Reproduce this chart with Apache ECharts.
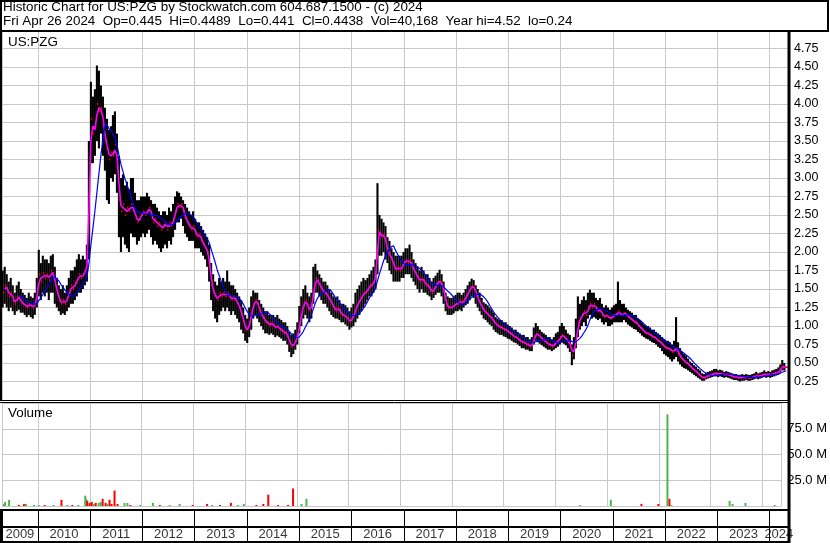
<!DOCTYPE html>
<html><head><meta charset="utf-8">
<script src="https://cdn.jsdelivr.net/npm/echarts@6/dist/echarts.min.js"></script>
<style>html,body{margin:0;padding:0;background:#fff}#c{width:830px;height:543px}</style>
</head><body><div id="c"></div>
<script>
// ---- data (biweekly bars, first bar 2009-05-01, last 2024-04-26) ----
const startDate = '2009-05-01';
const stepDays = 14;
const closes = [
1.45,1.55,1.50,1.40,1.45,1.35,1.30,1.40,1.38,1.32,
1.30,1.28,1.25,1.30,1.27,1.25,1.30,1.45,1.70,1.60,
1.72,1.65,1.70,1.62,1.75,1.70,1.55,1.45,1.35,1.30,
1.35,1.30,1.38,1.45,1.55,1.50,1.58,1.62,1.70,1.65,
1.70,1.75,1.85,3.20,3.80,3.60,3.70,4.00,3.90,3.95,
3.70,3.50,3.40,3.25,3.35,3.30,3.45,3.15,2.70,2.55,
2.65,2.50,2.60,2.55,2.65,2.55,2.50,2.40,2.45,2.50,
2.55,2.50,2.55,2.60,2.50,2.40,2.45,2.35,2.40,2.30,
2.35,2.40,2.30,2.40,2.35,2.45,2.55,2.65,2.60,2.65,
2.55,2.45,2.40,2.35,2.30,2.35,2.25,2.20,2.25,2.15,
2.10,2.05,2.00,1.80,1.55,1.45,1.40,1.35,1.45,1.40,
1.45,1.40,1.45,1.40,1.35,1.40,1.35,1.30,1.25,1.15,
1.05,0.95,0.95,1.05,1.20,1.30,1.35,1.30,1.20,1.15,
1.10,1.05,1.05,1.00,1.05,1.00,0.98,1.00,0.95,0.95,
0.90,0.92,0.85,0.78,0.72,0.75,0.80,0.90,1.05,1.20,
1.30,1.35,1.25,1.20,1.30,1.50,1.65,1.60,1.55,1.50,
1.45,1.45,1.40,1.35,1.30,1.25,1.20,1.25,1.20,1.15,
1.15,1.12,1.10,1.05,1.10,1.15,1.25,1.30,1.35,1.40,
1.45,1.45,1.50,1.55,1.55,1.60,1.70,2.30,2.25,2.20,
2.25,2.10,2.00,1.95,1.90,1.80,1.75,1.80,1.75,1.80,
1.85,1.90,1.85,1.90,1.80,1.75,1.70,1.65,1.60,1.65,
1.60,1.55,1.55,1.50,1.45,1.50,1.55,1.60,1.60,1.55,
1.45,1.30,1.25,1.25,1.25,1.28,1.30,1.30,1.35,1.30,
1.35,1.40,1.45,1.50,1.55,1.50,1.45,1.35,1.30,1.25,
1.20,1.18,1.15,1.12,1.10,1.05,1.02,1.00,0.98,0.98,
0.95,0.95,0.92,0.90,0.88,0.85,0.85,0.82,0.80,0.78,
0.78,0.75,0.75,0.72,0.75,0.85,0.90,0.88,0.85,0.82,
0.80,0.78,0.75,0.75,0.72,0.75,0.78,0.80,0.85,0.88,
0.85,0.82,0.78,0.75,0.60,0.70,0.85,1.05,1.10,1.15,
1.20,1.15,1.25,1.30,1.25,1.30,1.22,1.20,1.22,1.15,
1.12,1.15,1.12,1.10,1.12,1.15,1.15,1.20,1.15,1.15,
1.18,1.15,1.12,1.10,1.08,1.05,1.05,1.00,0.98,0.95,
0.92,0.90,0.90,0.88,0.85,0.85,0.82,0.80,0.78,0.75,
0.72,0.70,0.70,0.68,0.65,0.68,0.70,0.62,0.58,0.55,
0.52,0.50,0.48,0.45,0.42,0.40,0.38,0.35,0.32,0.30,
0.30,0.32,0.33,0.34,0.35,0.36,0.36,0.35,0.36,0.35,
0.34,0.35,0.34,0.33,0.32,0.31,0.31,0.30,0.30,0.31,
0.30,0.31,0.30,0.30,0.31,0.32,0.33,0.32,0.33,0.34,
0.35,0.34,0.35,0.34,0.35,0.36,0.37,0.38,0.42,0.46,
0.44,0.4438];
const highs = [
1.75,1.80,1.70,1.60,1.65,1.55,1.45,1.55,1.60,1.50,
1.45,1.42,1.38,1.45,1.40,1.38,1.45,1.65,2.03,1.85,
1.95,1.90,1.90,1.85,1.95,1.97,1.80,1.65,1.55,1.50,
1.55,1.45,1.55,1.65,1.75,1.75,1.80,1.90,1.97,1.90,
1.95,1.90,2.10,3.50,4.30,4.10,4.20,4.52,4.45,4.25,
4.10,3.95,3.80,3.65,3.70,3.85,3.90,3.60,3.30,3.00,
3.05,2.90,2.95,2.85,3.00,3.00,2.80,2.70,2.70,2.75,
2.75,2.75,2.80,2.75,2.70,2.65,2.65,2.60,2.55,2.50,
2.55,2.55,2.50,2.60,2.55,2.65,2.75,2.82,2.80,2.75,
2.70,2.65,2.60,2.55,2.50,2.55,2.45,2.40,2.40,2.35,
2.30,2.25,2.20,2.10,1.85,1.70,1.60,1.55,1.65,1.60,
1.65,1.60,1.75,1.60,1.55,1.55,1.50,1.45,1.40,1.35,
1.25,1.15,1.10,1.25,1.40,1.48,1.45,1.45,1.35,1.30,
1.25,1.20,1.20,1.15,1.15,1.15,1.12,1.15,1.10,1.08,
1.05,1.05,1.00,0.92,0.88,0.90,0.95,1.05,1.27,1.40,
1.50,1.55,1.45,1.40,1.45,1.80,1.84,1.75,1.70,1.65,
1.60,1.60,1.55,1.50,1.45,1.40,1.38,1.40,1.35,1.30,
1.30,1.28,1.25,1.20,1.25,1.30,1.45,1.50,1.55,1.60,
1.65,1.62,1.65,1.70,1.75,1.80,1.90,2.93,2.50,2.45,
2.40,2.35,2.20,2.15,2.05,2.00,1.95,1.95,1.95,1.95,
2.00,2.05,2.05,2.10,2.00,1.90,1.85,1.80,1.75,1.80,
1.75,1.70,1.70,1.65,1.60,1.65,1.68,1.72,1.76,1.70,
1.60,1.45,1.40,1.38,1.38,1.40,1.42,1.45,1.45,1.42,
1.45,1.50,1.55,1.60,1.64,1.62,1.55,1.50,1.45,1.38,
1.32,1.30,1.28,1.25,1.22,1.18,1.12,1.10,1.08,1.08,
1.05,1.05,1.02,1.00,0.98,0.95,0.95,0.92,0.90,0.88,
0.88,0.85,0.85,0.82,0.85,0.98,1.04,1.00,0.95,0.92,
0.90,0.88,0.85,0.85,0.82,0.85,0.90,0.92,1.00,1.04,
1.00,0.95,0.90,0.88,0.75,0.85,1.10,1.40,1.30,1.35,
1.40,1.35,1.45,1.49,1.45,1.45,1.38,1.35,1.38,1.30,
1.25,1.28,1.25,1.22,1.25,1.28,1.30,1.60,1.35,1.30,
1.30,1.25,1.22,1.20,1.18,1.15,1.15,1.10,1.08,1.05,
1.02,1.00,1.00,0.98,0.95,0.95,0.92,0.90,0.88,0.85,
0.82,0.80,0.80,0.78,0.75,0.80,1.12,0.78,0.70,0.65,
0.62,0.60,0.56,0.52,0.50,0.47,0.45,0.42,0.40,0.36,
0.35,0.37,0.38,0.39,0.40,0.42,0.42,0.40,0.41,0.40,
0.38,0.39,0.38,0.37,0.36,0.35,0.35,0.34,0.34,0.35,
0.34,0.35,0.34,0.34,0.35,0.36,0.38,0.36,0.37,0.38,
0.40,0.38,0.39,0.38,0.40,0.41,0.42,0.44,0.48,0.54,
0.50,0.4489];
const lows = [
1.25,1.30,1.25,1.20,1.25,1.20,1.15,1.20,1.22,1.18,
1.18,1.15,1.12,1.15,1.12,1.10,1.15,1.25,1.40,1.35,
1.45,1.40,1.45,1.35,1.45,1.45,1.30,1.25,1.20,1.15,
1.17,1.15,1.20,1.25,1.30,1.30,1.35,1.40,1.45,1.45,
1.50,1.55,1.60,1.90,3.20,3.20,3.30,3.50,3.40,3.60,
3.30,3.10,2.70,2.65,3.00,2.95,3.05,2.80,2.20,2.00,
2.20,2.10,2.05,2.00,2.25,2.20,2.20,2.10,2.15,2.20,
2.25,2.20,2.25,2.30,2.20,2.10,2.15,2.10,2.05,2.00,
2.05,2.10,2.05,2.15,2.10,2.20,2.30,2.40,2.40,2.45,
2.35,2.25,2.20,2.15,2.15,2.15,2.05,2.05,2.05,2.00,
1.95,1.90,1.80,1.60,1.35,1.20,1.10,1.05,1.15,1.20,
1.25,1.20,1.25,1.20,1.15,1.20,1.15,1.10,1.05,0.95,
0.90,0.80,0.77,0.85,0.95,1.10,1.15,1.10,1.05,1.00,
0.95,0.90,0.90,0.88,0.90,0.88,0.85,0.87,0.85,0.83,
0.80,0.80,0.75,0.65,0.58,0.62,0.68,0.75,0.90,1.00,
1.10,1.15,1.10,1.05,1.10,1.30,1.45,1.45,1.40,1.35,
1.30,1.30,1.25,1.20,1.15,1.12,1.10,1.10,1.08,1.05,
1.05,1.02,1.00,0.95,0.98,1.00,1.05,1.10,1.15,1.20,
1.25,1.30,1.35,1.40,1.40,1.45,1.50,1.70,1.95,1.95,
2.00,1.90,1.85,1.75,1.70,1.60,1.60,1.60,1.60,1.65,
1.65,1.70,1.70,1.70,1.65,1.60,1.55,1.50,1.45,1.50,
1.45,1.45,1.42,1.40,1.35,1.38,1.42,1.45,1.45,1.40,
1.30,1.20,1.15,1.15,1.15,1.17,1.20,1.20,1.22,1.20,
1.25,1.28,1.30,1.35,1.40,1.38,1.30,1.25,1.20,1.15,
1.10,1.08,1.05,1.02,1.00,0.95,0.92,0.90,0.88,0.88,
0.86,0.85,0.83,0.82,0.80,0.78,0.77,0.75,0.73,0.70,
0.70,0.68,0.68,0.66,0.66,0.75,0.80,0.78,0.76,0.74,
0.72,0.70,0.68,0.68,0.66,0.68,0.70,0.72,0.75,0.78,
0.76,0.74,0.70,0.65,0.47,0.55,0.70,0.85,0.95,1.00,
1.05,1.00,1.10,1.15,1.10,1.12,1.10,1.08,1.10,1.05,
1.02,1.05,1.00,1.00,1.02,1.05,1.05,1.05,1.05,1.05,
1.08,1.05,1.02,1.00,0.98,0.96,0.95,0.92,0.90,0.87,
0.85,0.83,0.82,0.80,0.78,0.77,0.75,0.72,0.70,0.66,
0.62,0.60,0.58,0.55,0.52,0.55,0.58,0.52,0.48,0.45,
0.43,0.42,0.40,0.38,0.36,0.34,0.32,0.30,0.28,0.26,
0.26,0.28,0.29,0.30,0.31,0.32,0.32,0.31,0.32,0.31,
0.30,0.31,0.30,0.29,0.28,0.27,0.27,0.26,0.25,0.26,
0.26,0.27,0.26,0.26,0.27,0.28,0.29,0.28,0.29,0.30,
0.31,0.30,0.31,0.30,0.31,0.32,0.33,0.34,0.37,0.40,
0.40,0.441];
// volume bars (millions), 1 = up (green), 0 = down (red)
const volDates = ['2009-05-04','2009-05-11','2009-06-08','2009-08-17','2009-09-21','2009-10-05','2009-12-01','2010-01-03','2010-02-14','2010-04-18','2010-06-13','2010-07-25','2010-08-29','2010-10-10','2010-11-28','2010-12-05','2010-12-12','2010-12-29','2011-01-13','2011-01-27','2011-02-10','2011-03-03','2011-03-17','2011-03-31','2011-04-21','2011-05-05','2011-05-19','2011-06-02','2011-06-23','2011-07-14','2011-09-01','2011-09-22','2011-10-13','2011-12-22','2012-03-20','2012-05-08','2012-07-17','2012-09-25','2012-12-26','2013-04-07','2013-05-12','2013-07-07','2013-09-22','2013-11-10','2013-12-22','2014-03-21','2014-05-09','2014-06-13','2014-08-22','2014-10-31','2014-12-05','2015-02-03','2015-03-10','2020-06-24','2021-01-27','2021-08-31','2021-12-29','2022-03-03','2022-03-17','2022-03-31','2023-05-16','2023-06-06','2023-09-05','2024-03-30'];
const volValues = [2,4,6,1,2,2,1,1,1,1,6,1,1,1,10,7,5,3,4,2,3,3,4,7,3,2,6,2,15,2,3,3,1,1,3,1,1,2,1,2,1,1,3,1,2,1,2,11,1,1,17,2,7,1,6,2,2,89,7,1,5,2,3,1];
const volUp = [1,1,1,0,0,1,1,1,0,1,0,1,0,1,1,1,0,0,0,1,0,1,1,0,0,1,0,0,0,0,1,1,0,1,1,0,1,1,0,0,1,0,0,1,1,0,0,0,0,0,0,1,1,1,1,0,0,1,0,1,1,1,1,1];
const yearLabels = ['2009','2010','2011','2012','2013','2014','2015','2016','2017','2018','2019','2020','2021','2022','2023','2024'];
const axisStart = '2009-04-26', axisEnd = '2024-05-08';
const maShort = 2, maLong = 9;
const priceTicks = {min: 0, max: 5, step: 0.25};
const volTicks = {min: 0, max: 100, step: 25};

// ---- build ----
const DAY = 86400000;
const t0 = Date.parse(startDate + 'T00:00:00Z');
const times = closes.map((_, i) => t0 + i * stepDays * DAY);
const ohlc = times.map((t, i) => [t, lows[i], highs[i], closes[i]]);
function sma(n) {
  const out = [];
  for (let i = n - 1; i < closes.length; i++) {
    let s = 0; for (let k = 0; k < n; k++) s += closes[i - k];
    out.push([times[i], s / n]);
  }
  return out;
}
const tMin = Date.parse(axisStart + 'T00:00:00Z'), tMax = Date.parse(axisEnd + 'T00:00:00Z');
const yearCenters = yearLabels.map(y => {
  const a = Math.max(Date.UTC(+y, 0, 1), tMin), b = Math.min(Date.UTC(+y + 1, 0, 1), tMax);
  return [(a + b) / 2, 0.25];
});
const FONT = '"Liberation Sans", Arial, sans-serif';
const GRID = '#c8c8c8';
const YEAR = 365 * DAY;
function xAx(idx, splitColor) {
  return {type: 'time', gridIndex: idx, min: tMin, max: tMax, minInterval: YEAR, maxInterval: 366 * DAY,
    axisLine: {show: false}, axisTick: {show: false}, axisLabel: {show: false},
    splitLine: {show: true, lineStyle: {color: splitColor, width: 1}}};
}
const chart = echarts.init(document.getElementById('c'), null, {renderer: 'canvas'});
const option = {
  animation: false,
  useUTC: true,
  backgroundColor: '#fff',
  grid: [
    {left: 2, top: 30, width: 786, height: 370},
    {left: 2, top: 403, width: 786, height: 103},
    {left: 2, top: 510, width: 786, height: 32}
  ],
  xAxis: [xAx(0, GRID), xAx(1, GRID), xAx(2, '#000')],
  yAxis: [
    {gridIndex: 0, position: 'right', min: priceTicks.min, max: priceTicks.max, interval: priceTicks.step,
      axisLine: {show: false}, axisTick: {show: false},
      axisLabel: {showMinLabel: false, showMaxLabel: false, margin: 6, color: '#000', fontSize: 12.5, fontFamily: FONT,
        formatter: v => v.toFixed(2)},
      splitLine: {lineStyle: {color: GRID, width: 1}}},
    {gridIndex: 1, position: 'right', min: volTicks.min, max: volTicks.max, interval: volTicks.step,
      axisLine: {show: false}, axisTick: {show: false},
      axisLabel: {showMinLabel: false, showMaxLabel: false, margin: 6, color: '#000', fontSize: 13, fontFamily: FONT,
        formatter: v => v.toFixed(1) + ' M'},
      splitLine: {lineStyle: {color: GRID, width: 1}}},
    {gridIndex: 2, min: 0, max: 1, show: false}
  ],
  series: [
    {type: 'custom', xAxisIndex: 0, yAxisIndex: 0, data: ohlc, clip: true, silent: true, z: 2,
      renderItem: function (params, api) {
        const t = api.value(0);
        const pL = api.coord([t, api.value(1)]);
        const pH = api.coord([t, api.value(2)]);
        const x = pL[0];
        return {type: 'rect', shape: {x: x - 1.05, y: pH[1], width: 2.1, height: Math.max(1, pL[1] - pH[1])}, style: {fill: '#000'}};
      }},
    {type: 'custom', xAxisIndex: 0, yAxisIndex: 0, data: ohlc, clip: true, silent: true, z: 3,
      renderItem: function (params, api) {
        const t = api.value(0);
        const pC = api.coord([t, api.value(3)]);
        return {type: 'rect', shape: {x: pC[0] + 0.2, y: pC[1] - 1, width: 1.2, height: 2}, style: {fill: '#ff0000'}};
      }},
    {type: 'line', xAxisIndex: 0, yAxisIndex: 0, data: sma(maShort), showSymbol: false, silent: true, z: 4,
      lineStyle: {color: '#ff00ff', width: 1.6}},
    {type: 'line', xAxisIndex: 0, yAxisIndex: 0, data: sma(maLong), showSymbol: false, silent: true, z: 5,
      lineStyle: {color: '#0000ff', width: 1.2}},
    {type: 'bar', xAxisIndex: 1, yAxisIndex: 1, barWidth: 2, silent: true,
      data: volDates.map((d, i) => ({value: [Date.parse(d + 'T00:00:00Z'), volValues[i]],
        itemStyle: {color: volUp[i] ? '#4cb84c' : '#ff0000'}}))},
    {type: 'scatter', xAxisIndex: 2, yAxisIndex: 2, symbolSize: 1, silent: true, data: yearCenters,
      itemStyle: {color: 'rgba(0,0,0,0)'},
      label: {show: true, position: 'inside', formatter: p => yearLabels[p.dataIndex], color: '#000', fontSize: 13, fontFamily: FONT}}
  ],
  graphic: [
    {type: 'rect', z: 100, shape: {x: 1, y: 1, width: 827, height: 30}, style: {fill: null, stroke: '#000', lineWidth: 2}},
    {type: 'line', z: 100, shape: {x1: 1, y1: 31, x2: 1, y2: 401}, style: {stroke: '#000', lineWidth: 2}},
    {type: 'line', z: 100, shape: {x1: 1, y1: 509, x2: 1, y2: 543}, style: {stroke: '#000', lineWidth: 2}},
    {type: 'line', z: 100, shape: {x1: 0, y1: 400.5, x2: 789, y2: 400.5}, style: {stroke: '#000', lineWidth: 1}},
    {type: 'line', z: 100, shape: {x1: 0, y1: 402.5, x2: 789, y2: 402.5}, style: {stroke: '#000', lineWidth: 1}},
    {type: 'line', z: 100, shape: {x1: 0, y1: 510, x2: 789, y2: 510}, style: {stroke: '#000', lineWidth: 2}},
    {type: 'line', z: 100, shape: {x1: 0, y1: 527, x2: 789, y2: 527}, style: {stroke: '#000', lineWidth: 2}},
    {type: 'line', z: 100, shape: {x1: 0, y1: 542, x2: 789, y2: 542}, style: {stroke: '#000', lineWidth: 2}},
    {type: 'line', z: 100, shape: {x1: 789, y1: 31, x2: 789, y2: 543}, style: {stroke: '#000', lineWidth: 3}},
    {type: 'text', z: 100, x: 3, y: 7, style: {text: 'Historic Chart for US:PZG by Stockwatch.com 604.687.1500 - (c) 2024', font: '13.4px ' + FONT, fill: '#000', verticalAlign: 'middle'}},
    {type: 'text', z: 100, x: 3, y: 21, style: {text: 'Fri Apr 26 2024  Op=0.445  Hi=0.4489  Lo=0.441  Cl=0.4438  Vol=40,168  Year hi=4.52  lo=0.24', font: '13.4px ' + FONT, fill: '#000', verticalAlign: 'middle'}},
    {type: 'text', z: 100, x: 8, y: 42, style: {text: 'US:PZG', font: '13.4px ' + FONT, fill: '#000', verticalAlign: 'middle'}},
    {type: 'text', z: 100, x: 8, y: 413, style: {text: 'Volume', font: '13.4px ' + FONT, fill: '#000', verticalAlign: 'middle'}}
  ]
};
chart.setOption(option);
</script>
</body></html>
